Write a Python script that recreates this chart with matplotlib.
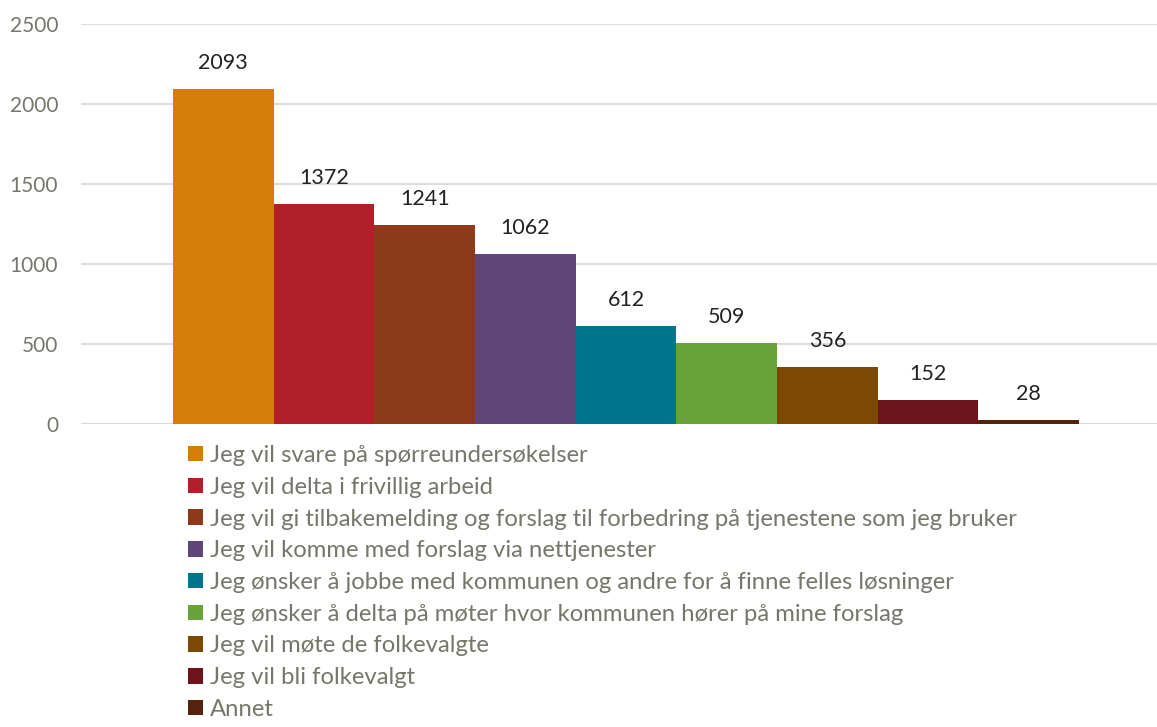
import matplotlib.pyplot as plt
from matplotlib.patches import Patch

plt.rcParams['font.family'] = ['Lato', 'DejaVu Sans']

labels = [
    "Jeg vil svare på spørreundersøkelser",
    "Jeg vil delta i frivillig arbeid",
    "Jeg vil gi tilbakemelding og forslag til forbedring på tjenestene som jeg bruker",
    "Jeg vil komme med forslag via nettjenester",
    "Jeg ønsker å jobbe med kommunen og andre for å finne felles løsninger",
    "Jeg ønsker å delta på møter hvor kommunen hører på mine forslag",
    "Jeg vil møte de folkevalgte",
    "Jeg vil bli folkevalgt",
    "Annet",
]
values = [2093, 1372, 1241, 1062, 612, 509, 356, 152, 28]
colors = ["#D47D09", "#B11F2B", "#8D3A1B", "#604678", "#00758C",
          "#6AA33A", "#7C4904", "#6C141A", "#53230F"]
yticks = [0, 500, 1000, 1500, 2000, 2500]

gray = "#76766A"

fig = plt.figure(figsize=(11.57, 7.27), dpi=100)
ax = fig.add_axes([81 / 1157, 303 / 727, 1076 / 1157, 400 / 727])

xs = list(range(len(values)))
bars = ax.bar(xs, values, width=1.0, color=colors, label=labels, zorder=2)
for x, v in zip(xs, values):
    ax.text(x, v + 100, str(v), ha='center', va='bottom', fontsize=15.5, color="#222222")

ax.set_xlim(-1.414, 9.275)
ax.set_ylim(0, 2500)
ax.set_yticks(yticks)
ax.set_yticklabels([str(t) for t in yticks], fontsize=15, color=gray)
ax.tick_params(axis='y', length=0, pad=16.5)
ax.set_xticks([])
ax.yaxis.grid(True, color="#D9D9D9", linewidth=1.3, zorder=0)
for s in ax.spines.values():
    s.set_visible(False)
ax.axhline(0, color="#D9D9D9", linewidth=1.3, zorder=1)

handles = [Patch(facecolor=c, label=l) for c, l in zip(colors, labels)]
fig.legend(handles=handles, loc='upper left', bbox_to_anchor=(188 / 1157, 1 - 445 / 727),
           frameon=False, fontsize=17.2, labelcolor=gray, handlelength=0.63, handleheight=0.63,
           handletextpad=0.3, labelspacing=0.45, borderpad=0, borderaxespad=0)

fig.savefig("out.png", dpi=100)
